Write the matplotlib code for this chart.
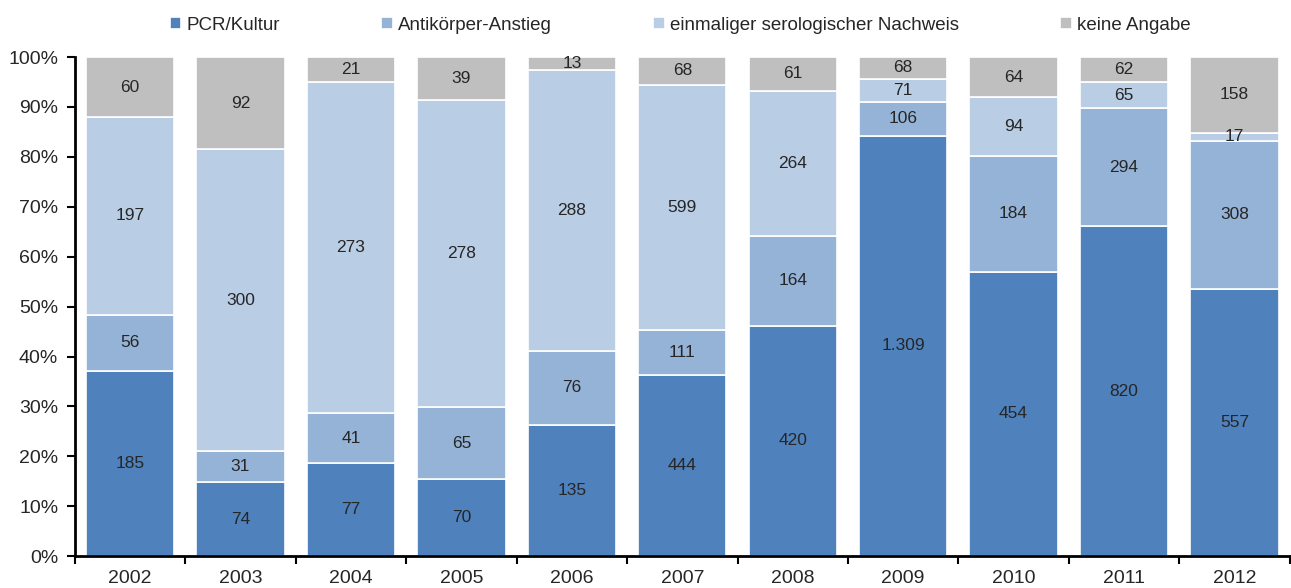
import numpy as np
import matplotlib.pyplot as plt
from matplotlib import font_manager

years = ['2002', '2003', '2004', '2005', '2006', '2007', '2008', '2009', '2010', '2011', '2012']
pcr = [185, 74, 77, 70, 135, 444, 420, 1309, 454, 820, 557]
antikoerper = [56, 31, 41, 65, 76, 111, 164, 106, 184, 294, 308]
einmalig = [197, 300, 273, 278, 288, 599, 264, 71, 94, 65, 17]
keine = [60, 92, 21, 39, 13, 68, 61, 68, 64, 62, 158]

series_names = ['PCR/Kultur', 'Antikörper-Anstieg', 'einmaliger serologischer Nachweis', 'keine Angabe']
colors = ['#4F81BD', '#95B3D7', '#B9CDE5', '#BFBFBF']

names = {f.name for f in font_manager.fontManager.ttflist}
fam = 'Liberation Sans Narrow' if 'Liberation Sans Narrow' in names else 'Liberation Sans'
plt.rcParams['font.family'] = [fam, 'DejaVu Sans']

data = np.array([pcr, antikoerper, einmalig, keine], dtype=float)
totals = data.sum(axis=0)
shares = data / totals * 100

fig = plt.figure(figsize=(12.91, 5.88), dpi=100)
ax = fig.add_axes([0.058, 0.054, 0.941, 0.849])

x = np.arange(len(years))
bottom = np.zeros(len(years))
for i in range(4):
    bars = ax.bar(x, shares[i], 0.8, bottom=bottom, color=colors[i],
                  edgecolor='white', linewidth=1.2, label=series_names[i])
    for j, b in enumerate(bars):
        v = int(data[i, j])
        txt = f'{v:,}'.replace(',', '.')
        ax.text(b.get_x() + b.get_width() / 2, bottom[j] + shares[i, j] / 2, txt,
                ha='center', va='center', fontsize=12.5, color='#262626')
    bottom += shares[i]

ax.set_xlim(-0.5, len(years) - 0.5)
ax.set_ylim(0, 100)
ax.set_yticks(np.arange(0, 101, 10))
ax.set_yticklabels([f'{v}%' for v in range(0, 101, 10)], fontsize=14, color='#262626')
ax.set_xticks(x)
ax.set_xticklabels(years, fontsize=14, color='#262626')
ax.set_xticks(np.arange(-0.5, len(years), 1), minor=True)
ax.tick_params(axis='x', which='major', length=0, pad=10)
ax.tick_params(axis='x', which='minor', length=6, width=1.5, direction='out')
ax.tick_params(axis='y', length=6, width=1.5, direction='out', pad=6)
for s in ['top', 'right']:
    ax.spines[s].set_visible(False)
ax.spines['left'].set_linewidth(2)
ax.spines['bottom'].set_linewidth(2)

fig.legend(loc='upper center', bbox_to_anchor=(0.527, 1.0), ncol=4, frameon=False,
           fontsize=13.5, handlelength=0.6, handleheight=0.6, handletextpad=0.3,
           columnspacing=5.4, labelcolor='#262626')

fig.savefig('out.png', dpi=100)
